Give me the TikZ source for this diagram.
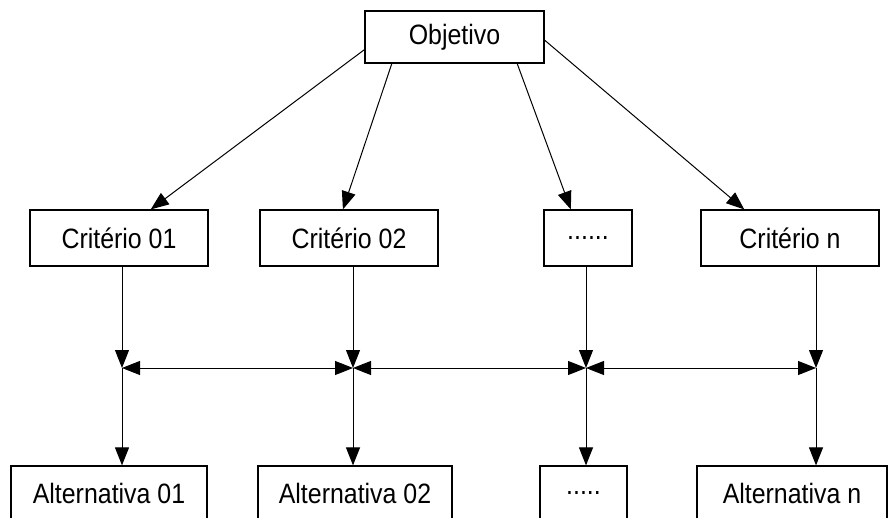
\documentclass[tikz,border=0pt]{standalone}
\usepackage{fontspec}
\setmainfont{Liberation Sans}[FakeStretch=0.89]
\usetikzlibrary{arrows.meta}
\tikzstyle{objbox} = [rectangle, draw=black, line width=1.2pt, minimum width=179pt, minimum height=52pt, inner sep=0pt, font=\fontsize{28}{32}\selectfont]
\tikzstyle{crit} = [rectangle, draw=black, line width=1.2pt, minimum width=178pt, minimum height=56pt, inner sep=0pt, font=\fontsize{28}{32}\selectfont]
\tikzstyle{alt} = [rectangle, draw=black, line width=1.2pt, minimum height=54pt, inner sep=0pt, font=\fontsize{28}{32}\selectfont]
\tikzstyle{arrow} = [line width=1pt,-{Triangle[length=18pt,width=14pt]}]
\tikzstyle{darrow} = [line width=1pt,{Triangle[length=18pt,width=14pt]}-{Triangle[length=18pt,width=14pt]}]

\begin{document}
\begin{tikzpicture}[x=1pt, y=-1pt]
\useasboundingbox (0,0) rectangle (888,518);
\clip (0,0) rectangle (888,518);
\node (obj) [objbox] at (454.5,37) {Objetivo};
\node (c1) [crit] at (119,238) {Critério 01};
\node (c2) [crit] at (349,238) {Critério 02};
\node (c3) [crit, minimum width=88pt] at (588,238) {......};
\node (cn) [crit] at (790,238) {Critério n};
\node (a1) [alt, minimum width=196pt] at (109,493) {Alternativa 01};
\node (a2) [alt, minimum width=194pt] at (355,493) {Alternativa 02};
\node (a3) [alt, minimum width=87pt] at (583.5,493) {.....};
\node (an) [alt, minimum width=190pt] at (792,493) {Alternativa n};
\coordinate (j1) at (122,368);
\coordinate (j2) at (353,368);
\coordinate (j3) at (586,368);
\coordinate (j4) at (816,368);

\draw [arrow] (obj.188) -- (c1.42);
\draw [arrow] (obj.203) -- (c2.102);
\draw [arrow] (obj.337) -- (c3.121);
\draw [arrow] (obj.358) -- (cn.148);

\draw [arrow] (c1.south -| j1) -- (j1);
\draw [arrow] (c2.south -| j2) -- (j2);
\draw [arrow] (c3.south -| j3) -- (j3);
\draw [arrow] (cn.south -| j4) -- (j4);

\draw [darrow] (j1) -- (j2);
\draw [darrow] (j2) -- (j3);
\draw [darrow] (j3) -- (j4);

\draw [arrow] (j1) -- (a1.north -| j1);
\draw [arrow] (j2) -- (a2.north -| j2);
\draw [arrow] (j3) -- (a3.north -| j3);
\draw [arrow] (j4) -- (an.north -| j4);
\end{tikzpicture}
\end{document}
